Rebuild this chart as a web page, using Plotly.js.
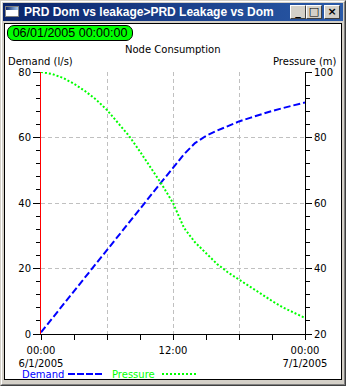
<!DOCTYPE html>
<html><head><meta charset="utf-8">
<script src="https://cdn.plot.ly/plotly-3.0.1.min.js"></script>
<style>
html,body{margin:0;padding:0;width:346px;height:386px;overflow:hidden;background:#d4d0c8;}
#win{position:absolute;left:0;top:0;width:346px;height:386px;box-sizing:border-box;background:#d4d0c8;border:1px solid;border-color:#d4d0c8 #404040 #404040 #d4d0c8;}
#win2{position:absolute;left:0;top:0;right:0;bottom:0;border:1px solid;border-color:#fff #808080 #808080 #fff;}
#titlebar{position:absolute;left:3px;top:3px;width:340px;height:18px;background:linear-gradient(to right,#0a246a,#2a5aa8);}
#ttext{position:absolute;left:21px;top:0;height:18px;line-height:18px;color:#fff;font-family:"Liberation Sans",Arial,sans-serif;font-weight:bold;font-size:12px;white-space:nowrap;}
#icon{position:absolute;left:2px;top:3px;width:14px;height:11px;box-sizing:border-box;border:1px solid #808080;background:#fff;}
#icon div{position:absolute;left:0;top:0;right:0;height:3px;background:linear-gradient(to right,#0a246a,#a6caf0);}
.btn{position:absolute;top:2px;width:16px;height:14px;box-sizing:border-box;background:#d4d0c8;border:1px solid;border-color:#fff #404040 #404040 #fff;font-family:"DejaVu Sans",sans-serif;font-weight:bold;font-size:11px;color:#000;text-align:center;line-height:12px;}
#client{position:absolute;left:4px;top:23px;width:338px;height:357px;box-sizing:border-box;border:1px solid #000;background:#fff;}
#badge{position:absolute;left:7px;top:25px;width:126px;height:16px;box-sizing:border-box;border:1px solid #000;border-radius:7px;background:#00ff00;font-family:"Liberation Sans",Arial,sans-serif;font-size:12.5px;color:#000;line-height:14px;text-align:center;white-space:nowrap;}
#plot{position:absolute;left:0;top:0;width:346px;height:386px;}
</style></head>
<body>
<div id="win"><div id="win2"></div></div>
<div id="titlebar">
  <div id="icon"><div></div></div>
  <div id="ttext">PRD Dom vs leakage&gt;PRD Leakage vs Dom</div>
  <div class="btn" style="left:287px;">_</div>
  <div class="btn" style="left:303px;">□</div>
  <div class="btn" style="left:321px;">×</div>
</div>
<div id="client"></div>
<div id="badge">06/01/2005 00:00:00</div>
<div id="plot"></div>
<script>
// Data (hours since 00:00 6/1/2005)
const hours = [0,1,2,3,4,5,6,7,8,9,10,11,12,13,14,15,16,17,18,19,20,21,22,23,24];
const demand = [0.5,4.7,8.9,13.1,17.3,21.6,25.9,30.1,34.3,38.4,42.5,46.6,50.7,54.9,58.3,60.5,62.1,63.5,64.9,66.0,67.1,68.1,69.0,69.9,70.7];
const pressure = [100,99.4,98.2,96.4,94.2,91.6,88.4,84.6,80.5,75.7,70.6,65.6,60.0,52.4,48.0,44.6,41.4,38.8,36.6,34.4,32.2,30.1,28.1,26.5,24.9];
const seriesNames = ['Demand','Pressure'];
const xTickVals = [0,6,12,18,24];
const xTickText = ['00:00<br>6/1/2005','','12:00','','00:00<br>7/1/2005'];
const chartTitle = 'Node Consumption';
const leftTitle = 'Demand (l/s)';
const rightTitle = 'Pressure (m)';

const W=346,H=386,L=41,R=41,T=72,B=52;
const pw=W-L-R, ph=H-T-B;
const px=x=>(x-L)/pw, py=y=>(H-B-y)/ph;

const traces = [
  {x:hours,y:demand,name:seriesNames[0],type:'scatter',mode:'lines',line:{color:'#0000ff',width:2,dash:'7px,3px'},yaxis:'y'},
  {x:hours,y:pressure,name:seriesNames[1],type:'scatter',mode:'lines',line:{color:'#00ff00',width:2,dash:'2px,2px'},yaxis:'y2'}
];
const grid = {showgrid:true,gridcolor:'#c0c0c0',gridwidth:1,griddash:'4px,3px'};
const layout = {
  width:W,height:H,margin:{l:L,r:R,t:T,b:B,pad:0},
  paper_bgcolor:'rgba(0,0,0,0)',plot_bgcolor:'rgba(0,0,0,0)',
  font:{family:'DejaVu Sans',size:10,color:'#000'},
  showlegend:false,
  xaxis:Object.assign({range:[0,24],tickmode:'array',tickvals:xTickVals,ticktext:xTickText,ticks:'outside',ticklen:5,tickcolor:'#000',tickwidth:1,
    ticklabelstandoff:2,
    showline:true,linecolor:'#000',linewidth:1,zeroline:false,fixedrange:true,
    minor:{tick0:0,dtick:3,ticks:'outside',ticklen:5,tickcolor:'#000',showgrid:false}},grid),
  yaxis:Object.assign({range:[0,80],tick0:0,dtick:20,ticks:'outside',ticklen:7,tickcolor:'#000',tickwidth:1,
    showline:true,linecolor:'#ff0000',linewidth:1,zeroline:false,fixedrange:true,
    minor:{tick0:0,dtick:4,ticks:'outside',ticklen:4,tickcolor:'#000',showgrid:false}},grid),
  yaxis2:{overlaying:'y',side:'right',range:[20,100],tick0:0,dtick:20,ticks:'outside',ticklen:6,tickcolor:'#000',tickwidth:1,
    showline:true,linecolor:'#000',linewidth:1,zeroline:false,showgrid:false,fixedrange:true,
    minor:{tick0:0,dtick:4,ticks:'outside',ticklen:4,tickcolor:'#000',showgrid:false}},
  annotations:[
    {text:chartTitle,xref:'paper',yref:'paper',x:0.5,y:py(49),xanchor:'center',yanchor:'middle',showarrow:false},
    {text:leftTitle,xref:'paper',yref:'paper',x:px(6),y:py(61),xanchor:'left',yanchor:'middle',showarrow:false},
    {text:rightTitle,xref:'paper',yref:'paper',x:px(339),y:py(61),xanchor:'right',yanchor:'middle',showarrow:false},
    {text:seriesNames[0],xref:'paper',yref:'paper',x:px(20),y:py(374),xanchor:'left',yanchor:'middle',showarrow:false,font:{color:'#0000ff'}},
    {text:seriesNames[1],xref:'paper',yref:'paper',x:px(110),y:py(374),xanchor:'left',yanchor:'middle',showarrow:false,font:{color:'#00ff00'}}
  ],
  shapes:[
    {type:'line',xref:'paper',yref:'paper',x0:px(68),x1:px(103),y0:py(374),y1:py(374),line:{color:'#0000ff',width:2,dash:'7px,2px'}},
    {type:'line',xref:'paper',yref:'paper',x0:px(162),x1:px(197),y0:py(374),y1:py(374),line:{color:'#00ff00',width:2,dash:'2px,2px'}}
  ]
};
Plotly.newPlot('plot',traces,layout,{displayModeBar:false,staticPlot:true});
</script>
</body></html>
